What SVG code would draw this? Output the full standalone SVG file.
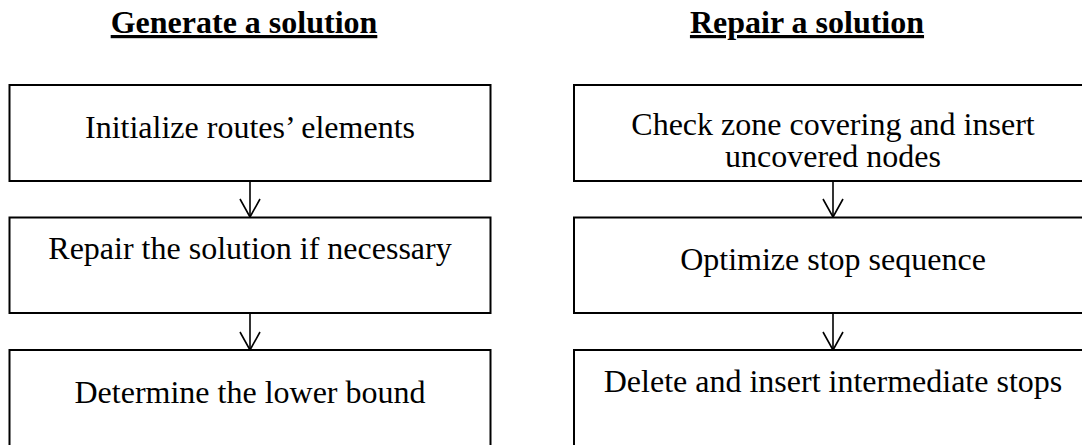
<svg xmlns="http://www.w3.org/2000/svg" width="1082" height="445" viewBox="0 0 1082 445">
<style>
.box{fill:#fff;stroke:#000;stroke-width:2}
.t{font-family:"Liberation Serif","Times New Roman",serif;font-size:32px;fill:#000;text-anchor:middle}
.h{font-family:"Liberation Serif","Times New Roman",serif;font-size:32px;font-weight:bold;fill:#000;text-anchor:middle;text-decoration:underline}
.c{stroke:#000;stroke-width:1.6;fill:none}
</style>
<defs>
<marker id="arr" viewBox="-2 -2 24 22" refX="10" refY="18" markerWidth="24" markerHeight="22" markerUnits="userSpaceOnUse" orient="0">
<path d="M0,0 L10,18 L20,0" fill="none" stroke="#000" stroke-width="1.6"/>
</marker>
</defs>
<rect width="1082" height="445" fill="#fff"/>
<g id="title-left"><text class="h" x="244" y="33">Generate a solution</text></g>
<g id="title-right"><text class="h" x="807" y="33">Repair a solution</text></g>
<g id="connectors">
<line class="c" x1="250" y1="181" x2="250" y2="217" marker-end="url(#arr)"/>
<line class="c" x1="250" y1="313" x2="250" y2="350" marker-end="url(#arr)"/>
<line class="c" x1="833" y1="181" x2="833" y2="217" marker-end="url(#arr)"/>
<line class="c" x1="833" y1="313" x2="833" y2="350" marker-end="url(#arr)"/>
</g>
<g id="node-init"><rect class="box" x="9.5" y="85" width="481" height="96"/><text class="t" x="250" y="138">Initialize routes’ elements</text></g>
<g id="node-repair"><rect class="box" x="9.5" y="217.5" width="481" height="95.5"/><text class="t" x="250" y="259">Repair the solution if necessary</text></g>
<g id="node-bound"><rect class="box" x="9.5" y="350" width="481" height="110"/><text class="t" x="250" y="403">Determine the lower bound</text></g>
<g id="node-check"><rect class="box" x="574" y="85" width="518" height="96"/><text class="t" x="833" y="135">Check zone covering and insert</text><text class="t" x="833" y="167">uncovered nodes</text></g>
<g id="node-optimize"><rect class="box" x="574" y="217.5" width="518" height="95.5"/><text class="t" x="833" y="270">Optimize stop sequence</text></g>
<g id="node-delete"><rect class="box" x="574" y="350" width="518" height="110"/><text class="t" x="833" y="392">Delete and insert intermediate stops</text></g>
</svg>
